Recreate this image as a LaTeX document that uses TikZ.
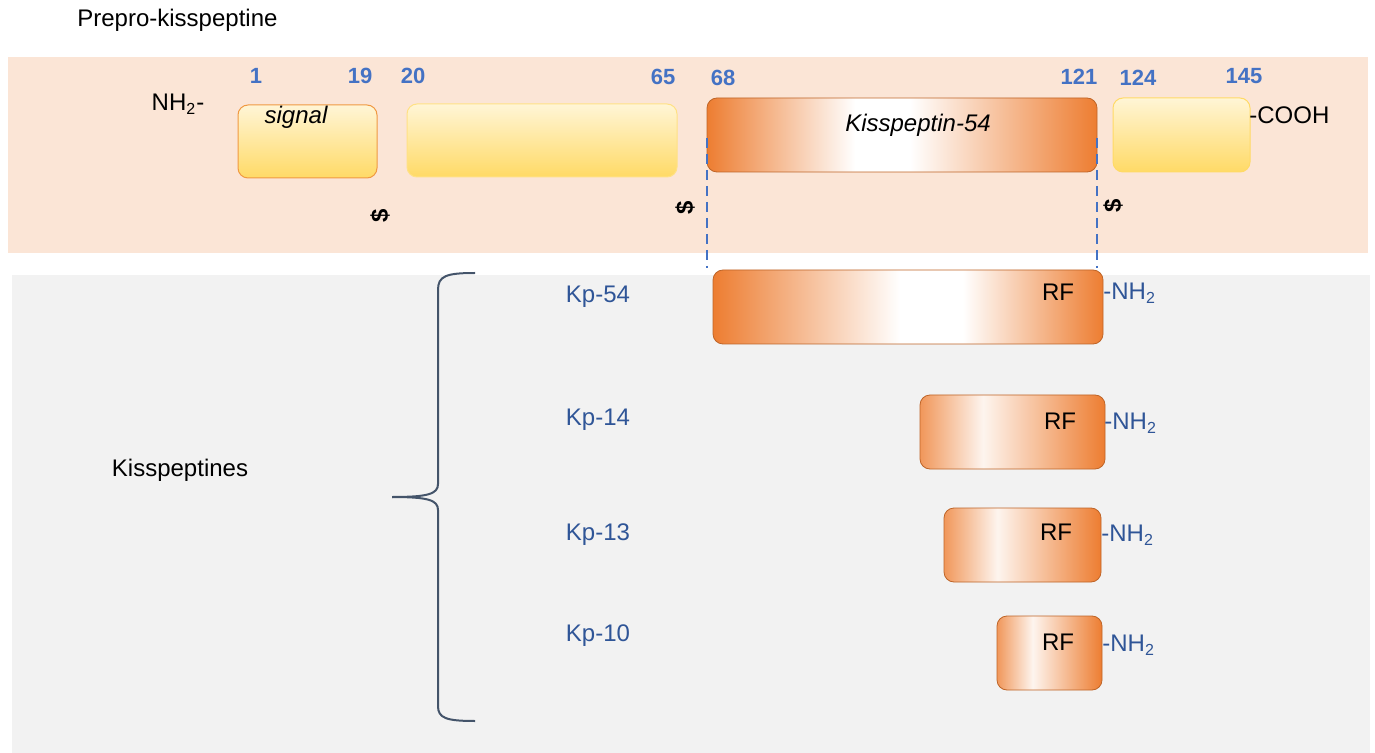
\documentclass[tikz,border=0pt]{standalone}
\usepackage{fontspec}
\setmainfont{Liberation Sans}
\definecolor{peach}{HTML}{FBE5D6}
\definecolor{lgrey}{HTML}{F2F2F2}
\definecolor{numblue}{HTML}{4472C4}
\definecolor{kpblue}{HTML}{2F5597}
\definecolor{kor}{HTML}{ED7D31}
\definecolor{ylight}{HTML}{FFF5D6}
\definecolor{ydark}{HTML}{FFDA66}
\definecolor{bracec}{HTML}{44546A}
\pgfdeclarehorizontalshading{kpA}{100bp}{color(0bp)=(kor); color(25bp)=(kor); color(49bp)=(white); color(57bp)=(white); color(75bp)=(kor); color(100bp)=(kor)}
\pgfdeclarehorizontalshading{kpTop}{100bp}{color(0bp)=(kor); color(25bp)=(kor); color(44bp)=(white); color(51bp)=(white); color(75bp)=(kor); color(100bp)=(kor)}
\pgfdeclarehorizontalshading{kpS}{100bp}{color(0bp)=(kor!80); color(25bp)=(kor!80); color(42bp)=(kor!8); color(75bp)=(kor); color(100bp)=(kor)}
\tikzset{
  ybox/.style={rounded corners=5pt, draw=#1, line width=0.5pt, top color=ylight, bottom color=ydark, inner sep=0pt},
  obox/.style={rounded corners=5pt, draw=kor!80!black, line width=0.4pt, shading=#1, inner sep=0pt},
  num/.style={text=numblue, font=\fontsize{11}{13}\selectfont\bfseries, inner sep=0pt},
  txt/.style={font=\fontsize{12}{14}\selectfont, inner sep=0pt},
  kplab/.style={text=kpblue, font=\fontsize{12}{14}\selectfont, inner sep=0pt},
  cut/.style={font=\fontsize{12}{14}\selectfont\bfseries, rotate=90, inner sep=0pt},
  dline/.style={draw=numblue, line width=1.4pt, dash pattern=on 5pt off 3pt},
}
\begin{document}
\begin{tikzpicture}[x=0.5pt,y=-0.5pt]
\useasboundingbox (0,0) rectangle (1375,753);
\fill[white] (0,0) rectangle (1375,753);
\fill[peach] (8,57) rectangle (1368,253);
\fill[lgrey] (12,275) rectangle (1370,753);

\node[txt, anchor=west] (title) at (77,20) {Prepro-kisspeptine};

% numbers
\node[num] (n1) at (256,76) {1};
\node[num] (n19) at (360,76) {19};
\node[num] (n20) at (413,76) {20};
\node[num] (n65) at (663,77) {65};
\node[num] (n68) at (723,78) {68};
\node[num] (n121) at (1079,77) {121};
\node[num] (n124) at (1138,78) {124};
\node[num] (n145) at (1244,76) {145};

\node[txt] (nh2top) at (178,104) {NH\textsubscript{2}-};

% precursor boxes
\node[ybox=orange!70!brown!80, minimum width=69.5pt, minimum height=36.5pt] (sig) at (307.5,141.5) {};
\node[txt, font=\fontsize{12}{14}\selectfont\itshape] (sigt) at (296,117) {signal};
\node[ybox=ydark!80, minimum width=135pt, minimum height=36.5pt] (b2) at (542,140.5) {};
\node[obox=kpTop, minimum width=195pt, minimum height=37pt] (k54) at (902,135) {};
\node[txt, font=\fontsize{12}{14}\selectfont\itshape] (k54t) at (918,125) {Kisspeptin-54};
\node[ybox=ydark, minimum width=68.5pt, minimum height=37pt] (b4) at (1181.5,135) {};
\node[txt, anchor=west] (cooh) at (1249,115) {-COOH};

% cleavage sites
\node[cut] (c1) at (380,216) {\$};
\node[cut] (c2) at (685,208) {\$};
\node[cut] (c3) at (1113,206) {\$};

% dashed guides
\coordinate (d1a) at (707,138);
\coordinate (d1b) at (707,268);
\coordinate (d2a) at (1097,138);
\coordinate (d2b) at (1097,268);
\draw[dline] (d1a) -- (d1b);
\draw[dline] (d2a) -- (d2b);

% kisspeptins
\node[obox=kpA, minimum width=195pt, minimum height=37pt] (kp54) at (908,307) {};
\node[obox=kpS, minimum width=92.5pt, minimum height=37pt] (kp14) at (1012.5,432) {};
\node[obox=kpS, minimum width=78.5pt, minimum height=37pt] (kp13) at (1022.5,545) {};
\node[obox=kpS, minimum width=52.5pt, minimum height=37pt] (kp10) at (1049.5,653) {};

\node[txt] (rf54) at (1058,292) {RF};
\node[txt] (rf14) at (1060,421) {RF};
\node[txt] (rf13) at (1056,532) {RF};
\node[txt] (rf10) at (1058,642) {RF};

\node[kplab, anchor=west] (nh54) at (1103,293) {-NH\textsubscript{2}};
\node[kplab, anchor=west] (nh14) at (1104,423) {-NH\textsubscript{2}};
\node[kplab, anchor=west] (nh13) at (1101,535) {-NH\textsubscript{2}};
\node[kplab, anchor=west] (nh10) at (1102,645) {-NH\textsubscript{2}};

\node[kplab] (l54) at (598,297) {Kp-54};
\node[kplab] (l14) at (598,420) {Kp-14};
\node[kplab] (l13) at (598,535) {Kp-13};
\node[kplab] (l10) at (598,636) {Kp-10};

\node[txt] (kiss) at (180,470) {Kisspeptines};

% brace
\coordinate (bt) at (475,273);
\coordinate (bm) at (392,497);
\coordinate (bb) at (475,721);
\draw[bracec, line width=1pt] (bt) .. controls (446,273) and (438,276) .. (438,290) -- (438,484) .. controls (438,494) and (428,497) .. (bm);
\draw[bracec, line width=1pt] (bm) .. controls (428,497) and (438,500) .. (438,510) -- (438,706) .. controls (438,718) and (446,721) .. (bb);
\end{tikzpicture}
\end{document}
